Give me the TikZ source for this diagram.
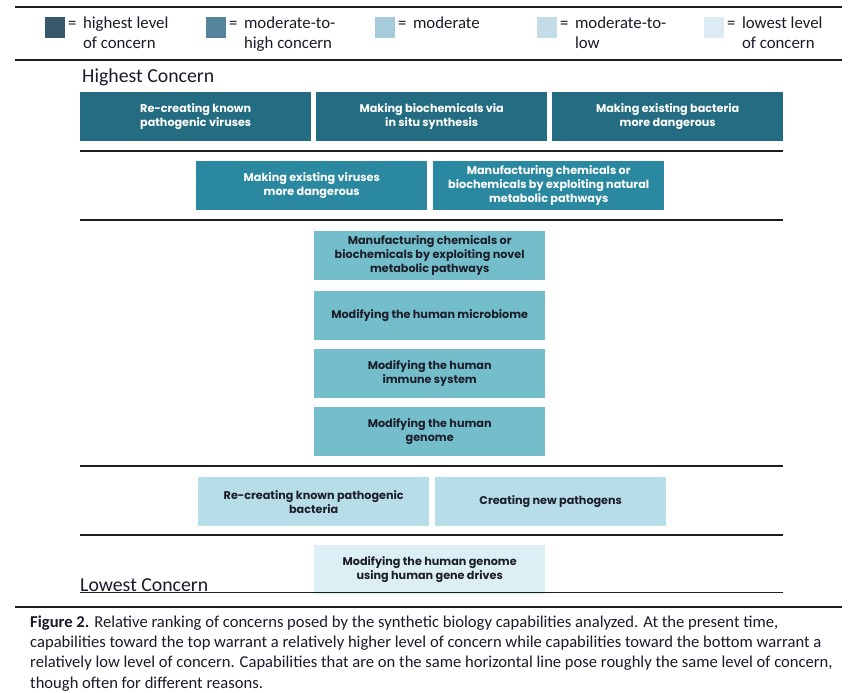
\documentclass[tikz,border=0pt]{standalone}
\usepackage{fontspec}
\setmainfont{Carlito}
\newfontfamily\boxfont{Poppins}
\definecolor{legA}{HTML}{38576B}
\definecolor{legB}{HTML}{55849B}
\definecolor{legC}{HTML}{A6CBDB}
\definecolor{legD}{HTML}{C3DCE8}
\definecolor{legE}{HTML}{DDECF4}
\definecolor{rowA}{HTML}{246C81}
\definecolor{rowB}{HTML}{2A88A1}
\definecolor{rowC}{HTML}{74BDCB}
\definecolor{rowD}{HTML}{B7DEE8}
\definecolor{rowE}{HTML}{DCEFF5}
\definecolor{boxtext}{HTML}{1C1F2A}
\definecolor{legtext}{HTML}{1A1A2A}
\definecolor{rulecol}{HTML}{1E1E1E}
\begin{document}
\begin{tikzpicture}[x=1pt,y=-1pt,
  cbox/.style={draw=none, minimum width=231pt, minimum height=49pt, inner sep=0pt,
    anchor=north west, align=center, font=\boxfont\bfseries\fontsize{11.2}{13.8}\selectfont},
  darkt/.style={text=white},
  lightt/.style={text=boxtext},
  legsq/.style={minimum width=20pt, minimum height=21pt, inner sep=0pt, anchor=north west},
  legtxt/.style={anchor=base west, inner sep=0pt, font=\fontsize{16.8}{20}\selectfont, text=legtext},
  ends/.style={anchor=base west, inner sep=0pt, font=\fontsize{19.8}{22}\selectfont, text=legtext},
  fullrule/.style={line width=1.5pt, rulecol},
  rowrule/.style={line width=1.2pt, rulecol}]
\useasboundingbox (0,0) rectangle (860,693);
\fill[white] (0,0) rectangle (860,693);
% legend
\draw[fullrule] (15,7) -- (842,7);
\draw[fullrule] (15,60) -- (842,60);
\node[legsq, fill=legA] (sqA) at (45,17) {};
\node[legsq, fill=legB] (sqB) at (206,17) {};
\node[legsq, fill=legC] (sqC) at (375,17) {};
\node[legsq, fill=legD] (sqD) at (537,17) {};
\node[legsq, fill=legE] (sqE) at (704,17) {};
\node[legtxt] (ltA) at (68,29) {=\hspace{6.5pt}\begin{tabular}[t]{@{}l@{}}highest level\\of concern\end{tabular}};
\node[legtxt] (ltB) at (229,29) {=\hspace{6.5pt}\begin{tabular}[t]{@{}l@{}}moderate-to-\\high concern\end{tabular}};
\node[legtxt] (ltC) at (398,29) {=\hspace{6.5pt}\begin{tabular}[t]{@{}l@{}}moderate\end{tabular}};
\node[legtxt] (ltD) at (560,29) {=\hspace{6.5pt}\begin{tabular}[t]{@{}l@{}}moderate-to-\\low\end{tabular}};
\node[legtxt] (ltE) at (727,29) {=\hspace{6.5pt}\begin{tabular}[t]{@{}l@{}}lowest level\\of concern\end{tabular}};
% headings
\node[ends] (hi) at (82,83) {Highest Concern};
% row 1
\node[cbox, fill=rowA, darkt] (r1a) at (80,92) {Re-creating known\\pathogenic viruses};
\node[cbox, fill=rowA, darkt] (r1b) at (316,92) {Making biochemicals via\\in situ synthesis};
\node[cbox, fill=rowA, darkt] (r1c) at (552,92) {Making existing bacteria\\more dangerous};
\draw[rowrule] (80,151) -- (783,151);
% row 2
\node[cbox, fill=rowB, darkt] (r2a) at (196,161) {Making existing viruses\\more dangerous};
\node[cbox, fill=rowB, darkt] (r2b) at (433,161) {Manufacturing chemicals or\\biochemicals by exploiting natural\\metabolic pathways};
\draw[rowrule] (80,220) -- (783,220);
% row 3
\node[cbox, fill=rowC, lightt] (r3a) at (314,231) {Manufacturing chemicals or\\biochemicals by exploiting novel\\metabolic pathways};
\node[cbox, fill=rowC, lightt] (r3b) at (314,291) {Modifying the human microbiome};
\node[cbox, fill=rowC, lightt] (r3c) at (314,349) {Modifying the human\\immune system};
\node[cbox, fill=rowC, lightt] (r3d) at (314,407) {Modifying the human\\genome};
\draw[rowrule] (80,466) -- (783,466);
% row 4
\node[cbox, fill=rowD, lightt] (r4a) at (198,477) {Re-creating known pathogenic\\bacteria};
\node[cbox, fill=rowD, lightt] (r4b) at (435,477) {Creating new pathogens};
\draw[rowrule] (80,535) -- (783,535);
% row 5
\node[cbox, fill=rowE, lightt] (r5a) at (314,545) {Modifying the human genome\\using human gene drives};
\node[ends] (lo) at (80,591) {Lowest Concern};
\draw[rowrule] (80,592.5) -- (783,592.5);
\draw[fullrule] (15,607) -- (842,607);
% caption (base anchor = last line)
\node[anchor=base west, inner sep=0pt, align=left, text=legtext,
  font=\fontsize{16.6}{20.2}\selectfont] (cap) at (30,688)
 {\textbf{Figure 2.} Relative ranking of concerns posed by the synthetic biology capabilities analyzed. At the present time,\\
  capabilities toward the top warrant a relatively higher level of concern while capabilities toward the bottom warrant a\\
  relatively low level of concern. Capabilities that are on the same horizontal line pose roughly the same level of concern,\\
  though often for different reasons.};
\end{tikzpicture}
\end{document}
